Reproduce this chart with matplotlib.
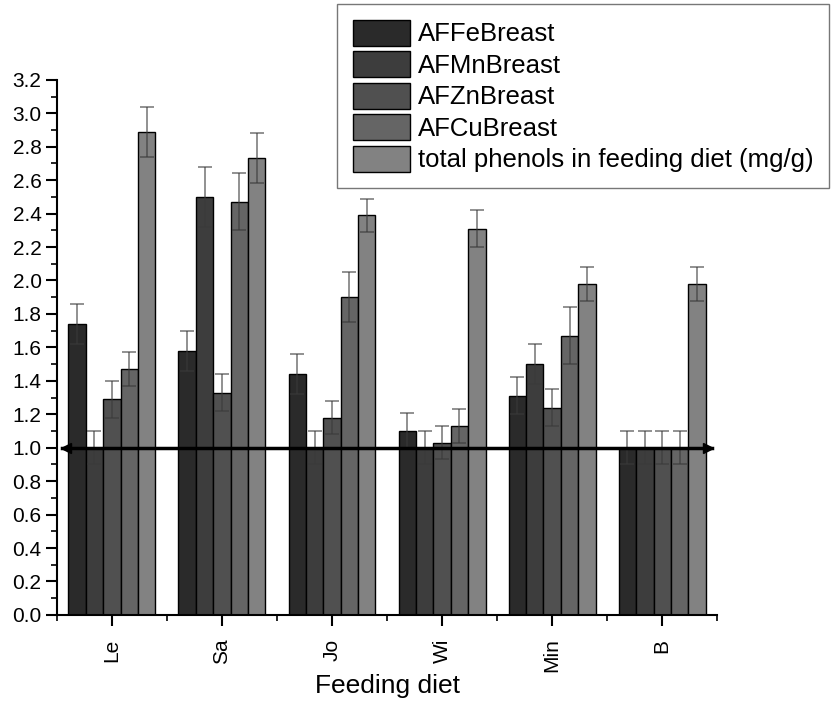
import numpy as np
import matplotlib.pyplot as plt
from matplotlib.ticker import MultipleLocator

plt.rcParams['font.family'] = ['Liberation Sans', 'DejaVu Sans']

# Feeding diets and measured ratios (mean and error)
diets = ['Le', 'Sa', 'Jo', 'Wi', 'Min', 'B']
series_names = ['AFFeBreast', 'AFMnBreast', 'AFZnBreast', 'AFCuBreast',
                'total phenols in feeding diet (mg/g)']

fe = [1.74, 1.58, 1.44, 1.10, 1.31, 1.00]
mn = [1.00, 2.50, 1.00, 1.00, 1.50, 1.00]
zn = [1.29, 1.33, 1.18, 1.03, 1.24, 1.00]
cu = [1.47, 2.47, 1.90, 1.13, 1.67, 1.00]
phenols = [2.89, 2.73, 2.39, 2.31, 1.98, 1.98]

fe_err = [0.12, 0.12, 0.12, 0.11, 0.11, 0.10]
mn_err = [0.10, 0.18, 0.10, 0.10, 0.12, 0.10]
zn_err = [0.11, 0.11, 0.10, 0.10, 0.11, 0.10]
cu_err = [0.10, 0.17, 0.15, 0.10, 0.17, 0.10]
phenols_err = [0.15, 0.15, 0.10, 0.11, 0.10, 0.10]

values = [fe, mn, zn, cu, phenols]
errors = [fe_err, mn_err, zn_err, cu_err, phenols_err]
colors = ['#2a2a2a', '#3d3d3d', '#505050', '#656565', '#828282']

fig = plt.figure(figsize=(8.35, 7.06), dpi=100)
ax = fig.add_axes([0.068, 0.129, 0.791, 0.758])

x = np.arange(1, len(diets) + 1)
width = 0.158
handles = []
for i, (vals, errs, col) in enumerate(zip(values, errors, colors)):
    pos = x + (i - 2) * width
    b = ax.bar(pos, vals, width, color=col, edgecolor='black', linewidth=1.0,
               label=series_names[i], zorder=2)
    ax.errorbar(pos, vals, yerr=errs, fmt='none', ecolor='#3a3a3a', alpha=0.6,
                elinewidth=1.3, capsize=5, capthick=1.3, zorder=3)
    handles.append(b)

# reference line at ratio 1.0
ax.plot([0.55, 6.45], [1, 1], color='black', linewidth=2.5, zorder=4)
ax.plot([0.58], [1], marker='<', color='black', markersize=7, zorder=4)
ax.plot([6.42], [1], marker='>', color='black', markersize=7, zorder=4)

ax.set_xlim(0.5, 6.5)
ax.set_ylim(0, 3.2)
ax.set_xticks(x)
ax.set_xticklabels(diets, rotation=90, fontsize=15)
ax.set_xticks(np.arange(0.5, 6.6, 1), minor=True)
ax.set_yticks(np.arange(0, 3.21, 0.2))
ax.set_yticklabels([f'{v:.1f}' for v in np.arange(0, 3.21, 0.2)], fontsize=15)
ax.yaxis.set_minor_locator(MultipleLocator(0.1))

ax.spines['top'].set_visible(False)
ax.spines['right'].set_visible(False)
for s in ['left', 'bottom']:
    ax.spines[s].set_linewidth(1.5)
ax.tick_params(which='major', direction='out', length=8, width=1.5, pad=3)
ax.tick_params(which='minor', direction='out', length=4, width=1.2)
ax.tick_params(axis='x', which='major', pad=9)

ax.set_xlabel('Feeding diet', fontsize=19, labelpad=1)

leg = fig.legend(handles=handles, loc='upper right', bbox_to_anchor=(0.993, 0.994),
                 fontsize=18.5, frameon=True, fancybox=False, edgecolor='#555555',
                 handlelength=2.25, handleheight=1.2, labelspacing=0.18,
                 handletextpad=0.3, borderpad=0.6, borderaxespad=0)
leg.get_frame().set_linewidth(1.0)

fig.savefig('out.png', dpi=100)
